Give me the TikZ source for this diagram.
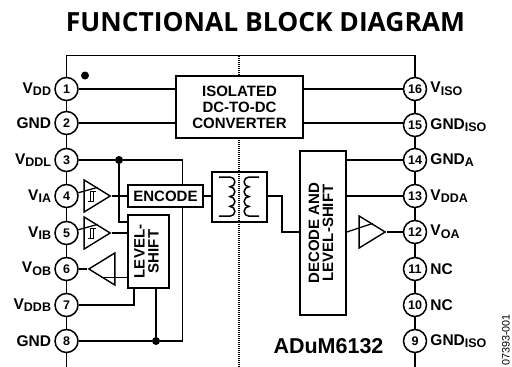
\documentclass[tikz,border=0pt]{standalone}
\usepackage{fontspec}
\setmainfont{Liberation Sans}
\newfontfamily\titlefont{Open Sans}
\usetikzlibrary{positioning,shapes.geometric}

\newcommand{\subtxt}[1]{\raisebox{-0.32ex}{\fontsize{12.5}{13}\selectfont #1}}

\tikzset{
	wire/.style={line width=1.3pt},
	rail/.style={line width=1.9pt},
	pin/.style={circle,draw,line width=1.5pt,fill=white,minimum size=23pt,inner sep=0pt,font=\fontsize{12.5}{13}\bfseries\selectfont},
	pinlabel/.style={inner sep=0pt,font=\fontsize{15.5}{16}\bfseries\selectfont},
	blockbox/.style={draw,line width=1.6pt,fill=white,inner sep=0pt,align=center,font=\fontsize{15}{16}\bfseries\selectfont},
	bufferamp/.style={isosceles triangle,isosceles triangle stretches,draw,line width=1.4pt,fill=white,inner sep=0pt,minimum width=32pt,minimum height=26pt,anchor=apex},
	schmittamp/.style={bufferamp,path picture={
		\draw[line width=.9pt] ([shift={(-9pt,-5pt)}]path picture bounding box.center) -- ++(5pt,0) -- ++(0,10pt) -- ++(2.5pt,0);
		\draw[line width=.9pt] ([shift={(-6.5pt,-5pt)}]path picture bounding box.center) -- ++(0,10pt) -- ++(2.5pt,0);
	}},
	junction/.style={circle,fill,inner sep=0pt,minimum size=8pt}
}

\begin{document}
\begin{tikzpicture}[x=1pt,y=-1pt]
	\useasboundingbox (0,0) rectangle (512,367);

	\node[font=\titlefont\fontsize{26.4}{28}\bfseries\selectfont,inner sep=0pt] (title) at (265.5,22) {FUNCTIONAL BLOCK DIAGRAM};

	% package outline and isolation barrier
	\coordinate (topleft) at (66.5,55.5);
	\coordinate (topright) at (415,55.5);
	\coordinate (botleft) at (66.5,367);
	\coordinate (botright) at (415,367);
	\coordinate (bartop) at (239,55.5);
	\coordinate (barbot) at (239,367);
	\draw[line width=1.7pt,dash pattern=on 1pt off 1pt] (bartop) -- (barbot);

	\node[pin] (pin1) at (66.5,89) {1};
	\node[pin] (pin2) at (66.5,123) {2};
	\node[pin] (pin3) at (66.5,160) {3};
	\node[pin] (pin4) at (66.5,196) {4};
	\node[pin] (pin5) at (66.5,233) {5};
	\node[pin] (pin6) at (66.5,269) {6};
	\node[pin] (pin7) at (66.5,305) {7};
	\node[pin] (pin8) at (66.5,341) {8};
	\node[pin] (pin16) at (415,89) {16};
	\node[pin] (pin15) at (415,125) {15};
	\node[pin] (pin14) at (415,160) {14};
	\node[pin] (pin13) at (415,196) {13};
	\node[pin] (pin12) at (415,232) {12};
	\node[pin] (pin11) at (415,269) {11};
	\node[pin] (pin10) at (415,305) {10};
	\node[pin] (pin9) at (415,341) {9};

	\node[pinlabel,left=3pt of pin1] (lab1) {V\subtxt{DD}};
	\node[pinlabel,left=3pt of pin2] (lab2) {GND};
	\node[pinlabel,left=3pt of pin3] (lab3) {V\subtxt{DDL}};
	\node[pinlabel,left=3pt of pin4] (lab4) {V\subtxt{IA}};
	\node[pinlabel,left=3pt of pin5] (lab5) {V\subtxt{IB}};
	\node[pinlabel,left=3pt of pin6] (lab6) {V\subtxt{OB}};
	\node[pinlabel,left=3pt of pin7] (lab7) {V\subtxt{DDB}};
	\node[pinlabel,left=3pt of pin8] (lab8) {GND};
	\node[pinlabel,right=3pt of pin16] (lab16) {V\subtxt{ISO}};
	\node[pinlabel,right=3pt of pin15] (lab15) {GND\subtxt{ISO}};
	\node[pinlabel,right=3pt of pin14] (lab14) {GND\subtxt{A}};
	\node[pinlabel,right=3pt of pin13] (lab13) {V\subtxt{DDA}};
	\node[pinlabel,right=3pt of pin12] (lab12) {V\subtxt{OA}};
	\node[pinlabel,right=3pt of pin11] (lab11) {NC};
	\node[pinlabel,right=3pt of pin10] (lab10) {NC};
	\node[pinlabel,right=3pt of pin9] (lab9) {GND\subtxt{ISO}};

	\node[blockbox,minimum width=127pt,minimum height=62pt] (converter) at (239.5,107) {ISOLATED\\DC-TO-DC\\CONVERTER};
	\node[blockbox,minimum width=75pt,minimum height=22pt] (encode) at (165.5,196) {ENCODE};
	\node[blockbox,minimum width=41pt,minimum height=73pt] (levelshift) at (148.5,251.5) {\rotatebox{90}{\begin{tabular}{@{}c@{}}LEVEL-\\[-2pt]SHIFT\end{tabular}}};
	\node[blockbox,minimum width=46pt,minimum height=164pt] (decode) at (323,233) {\rotatebox{90}{\begin{tabular}{@{}c@{}}DECODE AND\\[-2pt]LEVEL-SHIFT\end{tabular}}};
	\node[draw,line width=1.6pt,minimum width=55pt,minimum height=50pt,inner sep=0pt] (xfmr) at (239.5,197) {};

	\node[schmittamp] (ampa) at (112,196) {};
	\node[schmittamp] (ampb) at (112,233) {};
	\node[bufferamp,shape border rotate=180] (ampc) at (87,269) {};
	\node[bufferamp] (ampd) at (387,232) {};

	\node[junction] (dotvdd) at (119,160) {};
	\node[junction] (dotgnd) at (156,341) {};
	\node[junction] (pindot) at (85,75.5) {};

	% supply rails round the package
	\draw[rail] (pin1) -- (topleft) -- (topright) -- (pin16);
	\draw[rail] (pin1) -- (pin2);
	\draw[rail] (pin2) -- (pin3);
	\draw[rail] (pin3) -- (pin4);
	\draw[rail] (pin4) -- (pin5);
	\draw[rail] (pin5) -- (pin6);
	\draw[rail] (pin6) -- (pin7);
	\draw[rail] (pin7) -- (pin8);
	\draw[rail] (pin8) -- (botleft);
	\draw[rail] (pin16) -- (pin15);
	\draw[rail] (pin15) -- (pin14);
	\draw[rail] (pin14) -- (pin13);
	\draw[rail] (pin13) -- (pin12);
	\draw[rail] (pin12) -- (pin11);
	\draw[rail] (pin11) -- (pin10);
	\draw[rail] (pin10) -- (pin9);
	\draw[rail] (pin9) -- (botright);

	\draw[wire] (pin1) -- (pin1 -| converter.west);
	\draw[wire] (pin2) -- (pin2 -| converter.west);
	\draw[wire] (pin16) -- (pin16 -| converter.east);
	\draw[wire] (pin15.west |- 0,123) -- (converter.east |- 0,123);

	\draw[wire] (pin3) -- (dotvdd) -- (182.5,160) -- (182.5,185);
	\draw[wire] (dotvdd) -- (119,222) -- (levelshift.west |- 0,222);
	\draw[wire] (pin8) -- (dotgnd) -- (182.5,341) -- (182.5,207);
	\draw[wire] (dotgnd) -- (dotgnd |- levelshift.south);
	\draw[wire] (pin7) -- (134,305) -- (134,288);

	\draw[wire] (pin4) -- (ampa.left side);
	\draw[wire] (pin5) -- (ampb.left side);
	\draw[wire] (pin6) -- (ampc.apex);
	\draw[wire] (ampa.apex) -- (encode);
	\draw[wire] (ampb.apex) -- (ampb.apex -| levelshift.west);
	\draw[wire] (ampc.left side) -- (ampc.left side -| levelshift.west);

	\draw[wire] (encode.east) -- (xfmr.west |- encode.east);
	\draw[wire] (xfmr.east |- encode.east) -- (282,196) -- (282,232) -- (decode.west |- 0,232);

	\draw[wire] (decode.east |- pin14) -- (pin14);
	\draw[wire] (decode.east |- pin13) -- (pin13);
	\draw[wire] (decode.east |- pin12) -- (ampd.left side);
	\draw[wire] (ampd.apex) -- (pin12);

	% transformer windings
	\draw[line width=1.5pt] (219,177) -- (230,177) arc[start angle=90,end angle=-90,radius=4.9pt] arc[start angle=90,end angle=-90,radius=4.9pt] arc[start angle=90,end angle=-90,radius=4.9pt] arc[start angle=90,end angle=-90,radius=4.9pt] -- (219,216);
	\draw[line width=1.5pt] (259,177) -- (249,177) arc[start angle=90,end angle=270,radius=4.9pt] arc[start angle=90,end angle=270,radius=4.9pt] arc[start angle=90,end angle=270,radius=4.9pt] arc[start angle=90,end angle=270,radius=4.9pt] -- (259,216);

	\node[font=\fontsize{21.5}{22}\bfseries\selectfont,inner sep=0pt] (partno) at (328.5,346) {ADuM6132};
	\node[rotate=90,font=\fontsize{10.8}{12}\selectfont,inner sep=0pt,anchor=east] (figno) at (506,314) {07393-001};
\end{tikzpicture}
\end{document}
